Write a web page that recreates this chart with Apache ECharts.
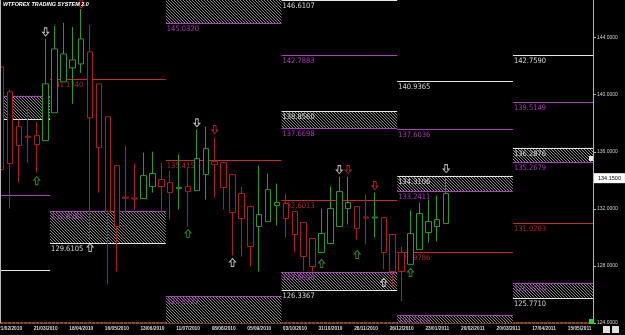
<!DOCTYPE html>
<html><head><meta charset="utf-8">
<script src="https://cdn.jsdelivr.net/npm/echarts@6/dist/echarts.min.js"></script>
<style>html,body{margin:0;padding:0;background:#000;overflow:hidden}#c{width:625px;height:335px}</style>
</head><body><div id="c"></div>
<script>
// weekly bars (Sunday open)
const weeks = ['14/02/2010','21/02/2010','28/02/2010','07/03/2010','14/03/2010','21/03/2010','28/03/2010','04/04/2010','11/04/2010','18/04/2010','25/04/2010','02/05/2010','09/05/2010','16/05/2010','23/05/2010','30/05/2010','06/06/2010','13/06/2010','20/06/2010','27/06/2010','04/07/2010','11/07/2010','18/07/2010','25/07/2010','01/08/2010','08/08/2010','15/08/2010','22/08/2010','29/08/2010','05/09/2010','12/09/2010','19/09/2010','26/09/2010','03/10/2010','10/10/2010','17/10/2010','24/10/2010','31/10/2010','07/11/2010','14/11/2010','21/11/2010','28/11/2010','05/12/2010','12/12/2010','19/12/2010','26/12/2010','02/01/2011','09/01/2011','16/01/2011','23/01/2011','30/01/2011','06/02/2011','13/02/2011','20/02/2011','27/02/2011','06/03/2011','13/03/2011','20/03/2011','27/03/2011','03/04/2011','10/04/2011','17/04/2011','24/04/2011','01/05/2011','08/05/2011','15/05/2011','22/05/2011'];

// [open, close, low, high]
const ohlc = [
[141.95,134.75,134.40,142.16],[140.20,135.17,132.02,140.34],[137.76,136.43,133.84,138.24],[137.09,137.02,135.24,139.15],
[137.13,136.50,134.54,138.10],[136.78,140.76,136.78,143.91],[138.73,143.21,138.73,144.82],[140.90,142.86,140.90,145.03],
[141.88,142.44,139.36,144.75],[142.16,143.91,141.53,146.01],[143.00,138.38,129.85,144.89],[140.76,136.29,133.14,140.76],
[138.45,131.81,126.71,138.45],[135.03,130.76,127.61,135.03],[132.82,132.75,131.74,136.43],[132.75,132.69,131.95,135.17],
[132.72,134.33,132.72,135.94],[133.56,134.47,133.14,136.01],[134.05,133.56,131.74,135.24],[133.84,133.14,131.25,134.68],
[133.42,133.49,131.95,135.80],[133.56,133.21,130.76,134.89],[133.28,135.52,133.28,137.55],[134.40,136.22,132.65,137.76],
[135.31,135.10,132.79,136.99],[135.24,133.49,131.95,135.24],[134.40,131.74,128.73,134.40],[133.07,131.32,128.66,133.56],
[132.16,129.36,127.96,132.16],[130.76,131.60,127.61,135.03],[131.11,133.35,131.11,134.47],[132.23,132.44,130.83,133.77],
[132.37,131.32,129.99,133.07],[131.81,130.20,128.94,131.81],[131.04,128.66,127.68,131.04],[129.92,127.96,127.61,129.92],
[128.94,130.27,128.94,132.02],[129.57,132.02,129.57,133.56],[130.76,133.21,130.76,134.26],[132.02,132.44,130.90,134.26],
[132.16,130.62,129.85,132.16],[131.43,131.36,129.50,133.00],[131.36,131.43,129.99,133.14],[131.39,128.94,127.75,131.39],
[130.20,127.61,126.57,130.20],[128.94,127.61,125.52,129.36],[128.11,130.27,128.11,131.88],[129.15,131.67,129.15,132.44],
[130.34,131.11,129.64,132.65],[130.76,131.25,129.71,132.93],[130.97,133.07,130.97,134.12]
];
const lastPrice = 134.15;

// quarterly pivot periods: [first week index, last week index]
const periods = [[0,5],[6,18],[19,31],[32,44],[45,57],[58,66]];
// [period, price, label]
const redLevels = [[1,141.1340,'141.1340'],[2,135.4150,'135.4150'],[3,132.6013,'132.6013'],[4,128.9786,'128.9786'],[5,131.0203,'131.0203']];
const magentaLevels = [[0,133.00,''],[3,142.7883,'142.7883'],[4,137.6036,'137.6036'],[5,139.5149,'139.5149']];
const whiteLevels = [[0,127.68,''],[3,146.6107,'146.6107'],[4,140.9365,'140.9365'],[5,142.7590,'142.7590']];
// resistance zones (white top, magenta bottom): [period, top, bottom, topLabel, bottomLabel]
const upperZones = [[2,147.80,145.0320,'','145.0320'],[3,138.8560,137.6698,'138.8560','137.6698'],[4,134.3106,133.2411,'134.3106','133.2411'],[5,136.2876,135.2679,'136.2876','135.2679']];
// support zones (magenta top, white bottom)
const lowerZones = [[0,139.92,138.31,'',''],[1,131.8282,129.6105,'131.8282','129.6105'],[2,125.8727,123.20,'125.8727',''],[3,127.5690,126.3367,'127.5690','126.3367'],[4,124.5316,123.10,'124.5316',''],[5,126.8210,125.7710,'126.8210','125.7710']];

// signal arrows [week index, price]
const whiteDown = [[5,144.40],[22,138.03],[38,134.75],[50,134.82]];
const redDown = [[9,146.36],[24,137.55],[39,134.75],[42,133.63]];
const greenUp = [[4,133.98],[21,130.27],[36,128.17],[40,128.80],[46,127.55]];
const whiteUp = [[10,129.29],[26,128.24],[43,126.85]];

const yTicks = [124,128,132,136,140,144];

const WHITE='#e6e6e6', MAG='#b03cc0', RED='#c82828';
const WHITE_T='#d8d8d8', MAG_T='#a43cb4', RED_T='#a82a2a';
const LFONT = "7.5px 'DejaVu Sans Condensed','DejaVu Sans',sans-serif";

const hc = document.createElement('canvas'); hc.width=3; hc.height=3;
const g = hc.getContext('2d'); g.fillStyle='#000'; g.fillRect(0,0,3,3);
g.fillStyle='#8a8a8a'; for(let i=0;i<3;i++) g.fillRect(i,i,1,1);
const hatch = {image: hc, repeat:'repeat'};

const levelItems = [];
redLevels.forEach(l=>levelItems.push({p:l[0],v:l[1],lab:l[2],c:RED,tc:RED_T}));
magentaLevels.forEach(l=>levelItems.push({p:l[0],v:l[1],lab:l[2],c:MAG,tc:MAG_T}));
whiteLevels.forEach(l=>levelItems.push({p:l[0],v:l[1],lab:l[2],c:WHITE,tc:WHITE_T}));
const zoneItems = [];
upperZones.forEach(z=>zoneItems.push({p:z[0],top:z[1],bot:z[2],tl:z[3],bl:z[4],tc:WHITE,bc:MAG,ttc:WHITE_T,btc:MAG_T}));
lowerZones.forEach(z=>zoneItems.push({p:z[0],top:z[1],bot:z[2],tl:z[3],bl:z[4],tc:MAG,bc:WHITE,ttc:MAG_T,btc:WHITE_T}));

function span(api, p, v){
  const bw = api.size([1,0])[0];
  const s = periods[p][0], e = periods[p][1];
  return [api.coord([s,v])[0]-bw/2, api.coord([e,v])[0]+bw/2];
}
function addLine(ch, x0, x1, y, col, lab, tcol, cs){
  if (y < cs.y-1 || y > cs.y+cs.height+1) return;
  const yy = Math.round(y)+0.5;
  ch.push({type:'line', shape:{x1:x0,y1:yy,x2:x1,y2:yy}, style:{stroke:col,lineWidth:1}});
  if (lab) ch.push({type:'text', style:{text:lab, x:x0+1, y:yy+1.5, fill:tcol, font:LFONT, align:'left', verticalAlign:'top'}});
}
function renderLevel(params, api){
  const it = levelItems[params.dataIndex];
  const cs = params.coordSys;
  const [x0,x1] = span(api, it.p, it.v);
  const y = api.coord([0,it.v])[1];
  const ch=[]; addLine(ch,x0,x1,y,it.c,it.lab,it.tc,cs);
  return {type:'group', children:ch};
}
function renderZone(params, api){
  const z = zoneItems[params.dataIndex];
  const cs = params.coordSys;
  const [x0,x1] = span(api, z.p, z.top);
  const yt = api.coord([0,z.top])[1], yb = api.coord([0,z.bot])[1];
  const t = Math.max(yt, cs.y), b = Math.min(yb, cs.y+cs.height);
  const ch=[];
  if (b>t) ch.push({type:'rect', shape:{x:x0,y:t,width:x1-x0,height:b-t}, style:{fill:hatch}});
  addLine(ch,x0,x1,yt,z.tc,z.tl,z.ttc,cs);
  addLine(ch,x0,x1,yb,z.bc,z.bl,z.btc,cs);
  return {type:'group', children:ch};
}

const upPath = 'path://M3,0 L6,3.5 L4.3,3.5 L4.3,8 L1.7,8 L1.7,3.5 L0,3.5 Z';
const downPath = 'path://M1.7,0 L4.3,0 L4.3,4.5 L6,4.5 L3,8 L0,4.5 L1.7,4.5 Z';
function arrows(data, path, col){
  return {type:'scatter', data, symbol:path, symbolSize:[6,8], z:5, silent:true,
    itemStyle:{color:'rgba(0,0,0,0)', borderColor:col, borderWidth:1}};
}

const chart = echarts.init(document.getElementById('c'), null, {renderer:'canvas'});
chart.setOption({
  backgroundColor:'#000',
  animation:false,
  grid:{left:-3.3, right:32, top:0, bottom:12, outerBoundsMode:'none', containLabel:false},
  xAxis:{type:'category', data:weeks, boundaryGap:true,
    axisLine:{show:true, lineStyle:{color:'#8c4a2a', type:'dotted', width:2}},
    axisTick:{show:false}, splitLine:{show:false},
    axisLabel:{interval:(i)=>i%4===1, color:'#dcdcdc', fontSize:4.8, margin:3, hideOverlap:false,
      fontFamily:"'Liberation Sans',sans-serif", fontWeight:'bold'}},
  yAxis:{type:'value', position:'right', min:124, max:146.636, interval:4,
    splitLine:{show:false},
    axisLine:{show:true, lineStyle:{color:'#b4b4b4'}},
    axisTick:{show:true, length:3, lineStyle:{color:'#b4b4b4'}},
    axisLabel:{color:'#cfcfcf', fontSize:5, margin:4, showMaxLabel:false,
      fontFamily:"'Liberation Sans','DejaVu Sans',sans-serif",
      formatter:(v)=> yTicks.indexOf(Math.round(v*1000)/1000)>=0 ? v.toFixed(4) : ''}},
  series:[
    {type:'custom', renderItem:renderZone, data:zoneItems.map(z=>[periods[z.p][0], z.top]), z:1, clip:true, silent:true},
    {type:'custom', renderItem:renderLevel, data:levelItems.map(l=>[periods[l.p][0], l.v]), z:1, clip:true, silent:true},
    {type:'candlestick', data:ohlc, barWidth:6, z:3,
      itemStyle:{color:'#000', color0:'#000', borderColor:'#2f9630', borderColor0:'#a82222', borderWidth:1},
      markLine:{silent:true, symbol:'none', data:[{yAxis:lastPrice}],
        lineStyle:{color:'rgba(0,0,0,0)', width:0},
        label:{show:true, position:'end', distance:1, formatter:()=>lastPrice.toFixed(4),
          backgroundColor:'#ffffff', color:'#000', fontSize:5.5, padding:[2,4,2,4], opacity:1,
          fontFamily:"'Liberation Sans','DejaVu Sans',sans-serif"}}},
    arrows(whiteDown, downPath, '#e8e8e8'),
    arrows(redDown, downPath, '#c83030'),
    arrows(greenUp, upPath, '#3aa03a'),
    arrows(whiteUp, upPath, '#e8e8e8')
  ],
  graphic:[
    {type:'rect', left:0, top:0, shape:{width:1,height:323}, style:{fill:'#b8b8b8'}, z:10},
    {type:'text', left:3, top:2, z:10, style:{text:'WTFOREX TRADING SYSTEM 2.0', fill:'#ffffff',
      font:"italic bold 5.4px 'Liberation Sans','DejaVu Sans',sans-serif"}},
    {type:'rect', left:589, top:156, shape:{width:4,height:5}, style:{fill:'#d8f0d8'}, z:10},
    {type:'rect', left:589, top:319, shape:{width:5,height:5}, style:{fill:'#30d030'}, z:10},
    {type:'rect', left:603, top:326, shape:{width:7,height:7}, style:{fill:'#e0e0e0'}, z:10},
    {type:'rect', left:612, top:326, shape:{width:7,height:7}, style:{fill:'#e0e0e0'}, z:10}
  ]
});
</script></body></html>
